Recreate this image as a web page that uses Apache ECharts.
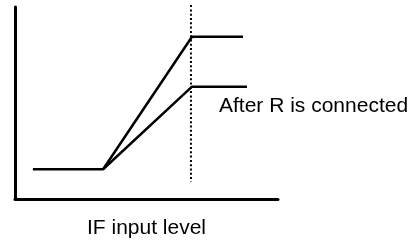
<!DOCTYPE html>
<html>
<head>
<meta charset="utf-8">
<script src="https://cdn.jsdelivr.net/npm/echarts@6/dist/echarts.min.js"></script>
<style>
  body { margin: 0; background: #fff; }
  #chart { width: 412px; height: 244px; }
</style>
</head>
<body>
<div id="chart"></div>
<script>
// response curves, in 0..100 units of the axes
const beforeCurve = [[6.8, 15.5], [33.5, 15.5], [67.3, 84.5], [86.7, 84.5]];
const afterCurve = [[33.5, 15.5], [67.3, 58.5], [88.2, 58.5]];
const limitLine = [[66.9, 101], [66.9, 8.8]];
const xName = "IF input level";
const curveNote = "After R is connected";

const chart = echarts.init(document.getElementById("chart"));
const font = "'Liberation Sans', Arial, sans-serif";

chart.setOption({
  animation: false,
  grid: { left: 15, top: 7, right: 134, bottom: 44 },
  xAxis: {
    type: "value",
    min: 0,
    max: 100,
    name: xName,
    nameLocation: "middle",
    nameGap: 19,
    nameTextStyle: { color: "#000", fontSize: 21, fontFamily: font },
    axisLine: { show: true, lineStyle: { color: "#000", width: 3 } },
    axisTick: { show: false },
    axisLabel: { show: false },
    splitLine: { show: false }
  },
  yAxis: {
    type: "value",
    min: 0,
    max: 100,
    axisLine: { show: true, lineStyle: { color: "#000", width: 3 } },
    axisTick: { show: false },
    axisLabel: { show: false },
    splitLine: { show: false }
  },
  graphic: [
    {
      type: "text",
      left: 219,
      top: 96,
      style: { text: curveNote, fill: "#000", fontSize: 21, fontFamily: font }
    }
  ],
  series: [
    {
      type: "line",
      data: beforeCurve,
      symbol: "none",
      lineStyle: { color: "#000", width: 2.5 }
    },
    {
      type: "line",
      data: afterCurve,
      symbol: "none",
      lineStyle: { color: "#000", width: 2.5 }
    },
    {
      type: "line",
      data: limitLine,
      symbol: "none",
      clip: false,
      lineStyle: { color: "#000", width: 2, type: [2, 2.3] }
    }
  ]
});
</script>
</body>
</html>
